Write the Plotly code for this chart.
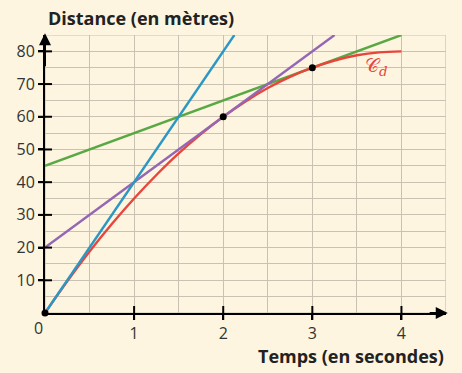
import plotly.graph_objects as go

# Read values
t_curve = [0, 0.25, 0.5, 0.75, 1, 1.25, 1.5, 1.75, 2, 2.25, 2.5, 2.75, 3, 3.25, 3.5, 3.75, 4]
d_curve = [0, 9.7, 18.8, 27.2, 35, 42.2, 48.8, 54.7, 60, 64.7, 68.8, 72.2, 75, 77.2, 78.8, 79.7, 80]

tan0_t = [0, 2.125]
tan0_d = [0, 85]
tan2_t = [0, 3.25]
tan2_d = [20, 85]
tan3_t = [0, 4]
tan3_d = [45, 85]

pts_t = [0, 2, 3]
pts_d = [0, 60, 75]

x_ticks = [1, 2, 3, 4]
y_ticks = [10, 20, 30, 40, 50, 60, 70, 80]

BG = "#fdf5df"
GRID = "#c9c1b2"
FONT = "Open Sans"

fig = go.Figure()
fig.add_trace(go.Scatter(x=tan3_t, y=tan3_d, mode="lines", line=dict(color="#5aa845", width=2.4), hoverinfo="skip"))
fig.add_trace(go.Scatter(x=t_curve, y=d_curve, mode="lines", line=dict(color="#e8453c", width=2.4, shape="spline"), hoverinfo="skip"))
fig.add_trace(go.Scatter(x=tan2_t, y=tan2_d, mode="lines", line=dict(color="#9466b4", width=2.4), hoverinfo="skip"))
fig.add_trace(go.Scatter(x=tan0_t, y=tan0_d, mode="lines", line=dict(color="#2b97c4", width=2.4), hoverinfo="skip"))
# inner halves of the crossing tick marks
fig.add_trace(go.Scatter(x=x_ticks, y=[0] * len(x_ticks), mode="markers",
                         marker=dict(symbol="line-ns", size=10, line=dict(color="black", width=2)),
                         cliponaxis=False, hoverinfo="skip"))
fig.add_trace(go.Scatter(x=[0] * len(y_ticks), y=y_ticks, mode="markers",
                         marker=dict(symbol="line-ew", size=10, line=dict(color="black", width=2)),
                         cliponaxis=False, hoverinfo="skip"))
fig.add_trace(go.Scatter(x=pts_t, y=pts_d, mode="markers", marker=dict(color="black", size=7), cliponaxis=False, hoverinfo="skip"))

# axis arrows
fig.add_annotation(x=4.52, y=0, ax=4.3, ay=0, xref="x", yref="y", axref="x", ayref="y",
                   showarrow=True, arrowhead=2, arrowsize=1.2, arrowwidth=2, arrowcolor="black", text="")
fig.add_annotation(x=0, y=85.5, ax=0, ay=75, xref="x", yref="y", axref="x", ayref="y",
                   showarrow=True, arrowhead=2, arrowsize=1.2, arrowwidth=2, arrowcolor="black", text="")

fig.add_shape(type="rect", x0=0, x1=4.5, y0=0, y1=85, xref="x", yref="y",
              line=dict(color=GRID, width=1.2), layer="below")

fig.add_annotation(x=0, y=0, xref="x", yref="y", text="0", showarrow=False, xanchor="center",
                   xshift=-7, yshift=-15, font=dict(family=FONT, size=16, color="#333"))
fig.add_annotation(x=3.72, y=75.5, xref="x", yref="y", text="𝒞<sub><i>d</i></sub>", showarrow=False,
                   font=dict(family="DejaVu Serif", size=19, color="#e8453c"))
fig.add_annotation(x=0.24, y=1.0, xref="paper", yref="paper", xanchor="center", yanchor="middle",
                   text="Distance (en mètres)",
                   showarrow=False, yshift=17, font=dict(family=FONT, size=18, color="#222", weight=700))
fig.add_annotation(x=1.0, y=-0.106, xref="paper", yref="paper", xanchor="right", yanchor="top",
                   text="Temps (en secondes)", showarrow=False,
                   font=dict(family=FONT, size=18, color="#222", weight=700))

fig.update_layout(
    width=462, height=373,
    margin=dict(l=45, r=16, t=35, b=60),
    paper_bgcolor=BG, plot_bgcolor=BG,
    showlegend=False,
    xaxis=dict(range=[0, 4.5], tickvals=x_ticks, showgrid=True, gridcolor=GRID, gridwidth=1.2,
               minor=dict(dtick=0.5, tick0=0, showgrid=True, gridcolor=GRID, gridwidth=1.2),
               showline=True, linecolor="black", linewidth=2, ticks="outside", ticklen=5,
               tickwidth=2, tickcolor="black", zeroline=False, automargin=False,
               tickfont=dict(family=FONT, size=16, color="#333")),
    yaxis=dict(range=[0, 85], tickvals=y_ticks, showgrid=True, gridcolor=GRID, gridwidth=1.2,
               minor=dict(dtick=5, tick0=0, showgrid=True, gridcolor=GRID, gridwidth=1.2),
               showline=True, linecolor="black", linewidth=2, ticks="outside", ticklen=5,
               tickwidth=2, tickcolor="black", zeroline=False, automargin=False,
               tickfont=dict(family=FONT, size=16, color="#333")),
)

fig.write_html("out.html", config={"displayModeBar": False},
               post_script="document.body.style.margin='0';document.body.style.background='#fdf5df';")
